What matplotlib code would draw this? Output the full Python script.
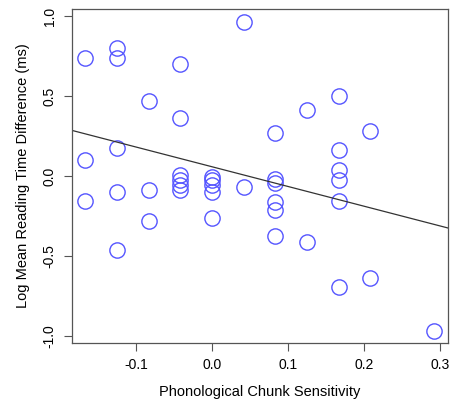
import matplotlib
matplotlib.use("Agg")
import matplotlib.pyplot as plt
import numpy as np

plt.rcParams['font.family'] = ['Liberation Sans', 'DejaVu Sans']

# chunk sensitivity (x) and log mean reading time difference (y)
sensitivity = [-0.167, -0.167, -0.167,
               -0.125, -0.125, -0.125, -0.125, -0.125,
               -0.083, -0.083, -0.083,
               -0.042, -0.042, -0.042, -0.042, -0.042, -0.042,
               0.0, 0.0, 0.0, 0.0, 0.0,
               0.042, 0.042,
               0.083, 0.083, 0.083, 0.083, 0.083, 0.083,
               0.125, 0.125,
               0.167, 0.167, 0.167, 0.167, 0.167, 0.167,
               0.208, 0.208,
               0.292]
rt_diff = [0.74, 0.10, -0.154,
           0.80, 0.74, 0.177, -0.10, -0.46,
           0.467, -0.09, -0.279,
           0.70, 0.36, 0.006, -0.025, -0.055, -0.085,
           -0.004, -0.025, -0.056, -0.10, -0.265,
           0.9625, -0.067,
           0.267, -0.02, -0.046, -0.16, -0.21, -0.375,
           0.41, -0.415,
           0.50, 0.1625, 0.04, -0.025, -0.154, -0.694,
           0.283, -0.635,
           -0.967]

xticks = [-0.1, 0.0, 0.1, 0.2, 0.3]
yticks = [-1.0, -0.5, 0.0, 0.5, 1.0]

x = np.array(sensitivity)
y = np.array(rt_diff)
slope, intercept = np.polyfit(x, y, 1)

fig = plt.figure(figsize=(4.53, 4.0), dpi=100)
ax = fig.add_axes([72/453, 57/400, 376/453, 334/400])

ax.plot(x, y, 'o', ms=11, mfc='none', mec='#5555ff', mew=1.0)
xl = np.array([-0.184, 0.3105])
ax.plot(xl, intercept + slope*xl, color='#333333', lw=0.9)

ax.set_xlim(-0.184, 0.3105)
ax.set_ylim(-1.044, 1.044)
ax.set_xticks(xticks, [f"{t:.1f}" for t in xticks])
ax.set_yticks(yticks, [f"{t:.1f}" for t in yticks])
for lab in ax.get_yticklabels():
    lab.set_rotation(90)
    lab.set_va('center')
ax.tick_params(direction='out', length=6, width=0.8, color='#555555',
               labelsize=10, pad=5)
for s in ax.spines.values():
    s.set_color('#555555')
    s.set_linewidth(0.9)

ax.set_xlabel('Phonological Chunk Sensitivity', fontsize=10.5, labelpad=9)
ax.set_ylabel('Log Mean Reading Time Difference (ms)', fontsize=10.5, labelpad=9)

fig.savefig('out.png', dpi=100)
